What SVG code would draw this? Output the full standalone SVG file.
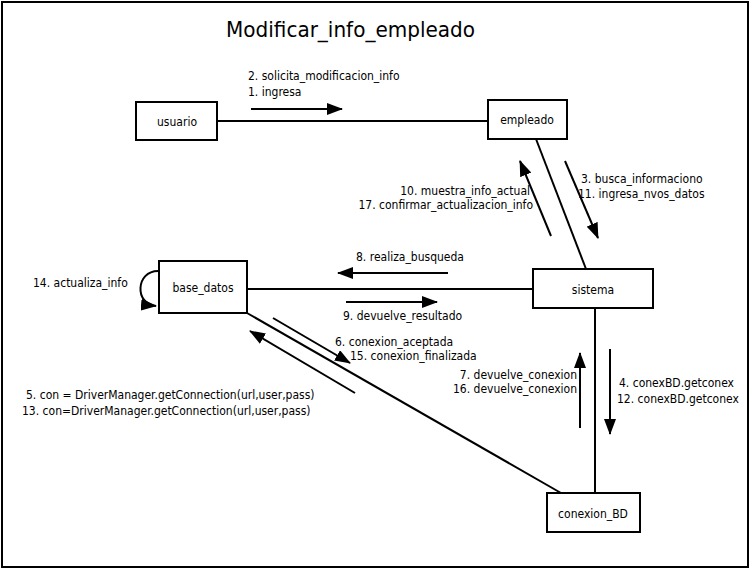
<svg xmlns="http://www.w3.org/2000/svg" width="754" height="571" viewBox="0 0 754 571">
<style>
.box{fill:#fff;stroke:#000;stroke-width:2}
.ln{fill:none;stroke:#000;stroke-width:2}
.t{font-family:"DejaVu Sans Condensed","Liberation Sans",sans-serif;font-size:12px;fill:#000}
.n{font-family:"DejaVu Sans Condensed","Liberation Sans",sans-serif;font-size:12px;fill:#000;text-anchor:middle}
</style>
<defs>
<marker id="ahb" markerWidth="16" markerHeight="12" refX="15" refY="6" orient="auto" markerUnits="userSpaceOnUse" viewBox="0 0 16 12">
<path d="M0,0 L16,6 L0,12 Z" fill="#000"/>
</marker>
</defs>
<rect x="0" y="0" width="754" height="571" fill="#fff"/>
<rect x="2" y="2" width="746" height="565" fill="none" stroke="#000" stroke-width="2"/>
<text x="226" y="37" font-family="DejaVu Sans Condensed, Liberation Sans, sans-serif" font-size="22" textLength="249" lengthAdjust="spacingAndGlyphs">Modificar_info_empleado</text>

<g id="connectors">
<line class="ln" x1="217" y1="121" x2="488" y2="121"/>
<line class="ln" x1="536" y1="139" x2="586" y2="269"/>
<line class="ln" x1="247" y1="289" x2="533" y2="289"/>
<line class="ln" x1="595" y1="308" x2="595" y2="493"/>
<line class="ln" x1="247" y1="313" x2="561" y2="493"/>
<line class="ln" x1="251" y1="109" x2="342" y2="109" marker-end="url(#ahb)"/>
<line class="ln" x1="551" y1="236" x2="520" y2="161" marker-end="url(#ahb)"/>
<line class="ln" x1="565" y1="161" x2="598" y2="238" marker-end="url(#ahb)"/>
<line class="ln" x1="448" y1="273" x2="338" y2="273" marker-end="url(#ahb)"/>
<line class="ln" x1="346" y1="302" x2="437" y2="302" marker-end="url(#ahb)"/>
<line class="ln" x1="273" y1="318" x2="350" y2="363" marker-end="url(#ahb)"/>
<line class="ln" x1="355" y1="393" x2="250" y2="331" marker-end="url(#ahb)"/>
<line class="ln" x1="580" y1="428" x2="580" y2="353" marker-end="url(#ahb)"/>
<line class="ln" x1="610" y1="349" x2="610" y2="434" marker-end="url(#ahb)"/>
<path class="ln" d="M158,271 C136,271 134,304 156,306" marker-end="url(#ahb)"/>
</g>

<g id="labels">
<text class="t" x="248" y="80">2. solicita_modificacion_info</text>
<text class="t" x="248" y="96">1. ingresa</text>
<text class="t" x="530" y="195" text-anchor="end">10. muestra_info_actual</text>
<text class="t" x="533" y="209" text-anchor="end">17. confirmar_actualizacion_info</text>
<text class="t" x="581" y="183">3. busca_informaciono</text>
<text class="t" x="578" y="198">11. ingresa_nvos_datos</text>
<text class="t" x="356" y="261">8. realiza_busqueda</text>
<text class="t" x="343" y="320">9. devuelve_resultado</text>
<text class="t" x="335" y="346">6. conexion_aceptada</text>
<text class="t" x="350" y="360">15. conexion_finalizada</text>
<text class="t" x="33" y="287">14. actualiza_info</text>
<text class="t" x="26" y="399">5. con = DriverManager.getConnection(url,user,pass)</text>
<text class="t" x="22" y="415">13. con=DriverManager.getConnection(url,user,pass)</text>
<text class="t" x="577" y="379" text-anchor="end">7. devuelve_conexion</text>
<text class="t" x="577" y="393" text-anchor="end">16. devuelve_conexion</text>
<text class="t" x="619" y="387">4. conexBD.getconex</text>
<text class="t" x="617" y="403">12. conexBD.getconex</text>
</g>

<g id="usuario"><rect class="box" x="136" y="102" width="81" height="38"/><text class="n" x="177" y="126">usuario</text></g>
<g id="empleado"><rect class="box" x="488" y="100" width="79" height="39"/><text class="n" x="527" y="124">empleado</text></g>
<g id="sistema"><rect class="box" x="533" y="269" width="120" height="39"/><text class="n" x="593" y="294">sistema</text></g>
<g id="base_datos"><rect class="box" x="159" y="261" width="88" height="52"/><text class="n" x="203" y="292">base_datos</text></g>
<g id="conexion_BD"><rect class="box" x="547" y="493" width="93" height="39"/><text class="n" x="593" y="518">conexion_BD</text></g>
</svg>
